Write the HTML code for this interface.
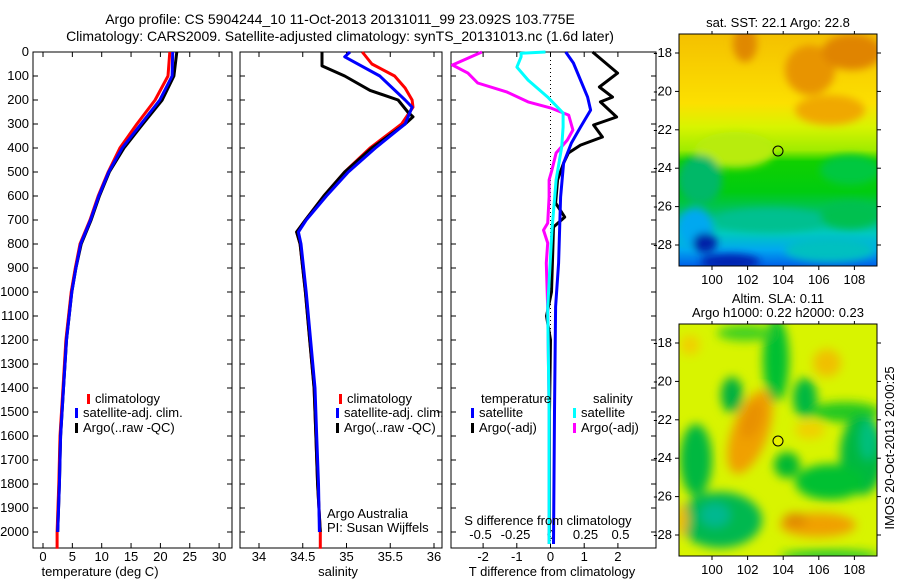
<!DOCTYPE html>
<html><head><meta charset="utf-8">
<style>
body{margin:0;background:#fff;}
svg{display:block;font-family:"Liberation Sans",sans-serif;}
text{font-size:13px;fill:#000;}
</style></head>
<body>
<svg id="fig" width="900" height="580" viewBox="0 0 900 580">
<defs>
<filter id="blur1" x="-50%" y="-50%" width="200%" height="200%"><feGaussianBlur stdDeviation="4"/></filter>
<filter id="blur2" x="-50%" y="-50%" width="200%" height="200%"><feGaussianBlur stdDeviation="5"/></filter>
<clipPath id="clipM1"><rect x="679" y="34" width="198" height="232"/></clipPath>
<clipPath id="clipM2"><rect x="679" y="324" width="198" height="232"/></clipPath>
<linearGradient id="sstGrad" x1="0" y1="0" x2="0" y2="1">
<stop offset="0" stop-color="#f4c000"/><stop offset="0.3" stop-color="#fce000"/><stop offset="0.4" stop-color="#d8f400"/>
<stop offset="0.5" stop-color="#a0ec00"/><stop offset="0.55" stop-color="#10d000"/><stop offset="0.68" stop-color="#00cc10"/><stop offset="0.78" stop-color="#00c070"/>
<stop offset="0.86" stop-color="#00c8c0"/><stop offset="0.93" stop-color="#00a8f0"/><stop offset="1" stop-color="#0060e8"/></linearGradient>
</defs>

<text x="340" y="24" text-anchor="middle" style="font-size:14px">Argo profile: CS 5904244_10 11-Oct-2013 20131011_99 23.092S 103.775E</text>
<text x="340" y="41" text-anchor="middle" style="font-size:14px">Climatology: CARS2009. Satellite-adjusted climatology: synTS_20131013.nc (1.6d later)</text>

<g id="axes"></g>
<g id="marks"></g>

<g>
<rect x="87" y="394" width="3" height="10" fill="#f00"/><text x="95" y="403">climatology</text>
<rect x="75" y="408" width="3" height="10" fill="#00f"/><text x="83" y="417">satellite-adj. clim.</text>
<rect x="75" y="423" width="3" height="10" fill="#000"/><text x="83" y="432">Argo(..raw -QC)</text>
</g>
<g>
<rect x="339" y="394" width="3" height="10" fill="#f00"/><text x="347" y="403">climatology</text>
<rect x="336" y="408" width="3" height="10" fill="#00f"/><text x="344" y="417">satellite-adj. clim.</text>
<rect x="336" y="423" width="3" height="10" fill="#000"/><text x="344" y="432">Argo(..raw -QC)</text>
</g>
<text x="327" y="518">Argo Australia</text>
<text x="327" y="532">PI: Susan Wijffels</text>
<g>
<text x="481" y="403">temperature</text><text x="593" y="403">salinity</text>
<rect x="471" y="408" width="3" height="10" fill="#00f"/><text x="479" y="417">satellite</text>
<rect x="573" y="408" width="3" height="10" fill="#0ff"/><text x="581" y="417">satellite</text>
<rect x="471" y="423" width="3" height="10" fill="#000"/><text x="479" y="432">Argo(-adj)</text>
<rect x="573" y="423" width="3" height="10" fill="#f0f"/><text x="581" y="432">Argo(-adj)</text>
</g>
<text x="548" y="525" text-anchor="middle">S difference from climatology</text>

<text x="100" y="576" text-anchor="middle">temperature (deg C)</text>
<text x="338" y="576" text-anchor="middle">salinity</text>
<text x="552" y="576" text-anchor="middle">T difference from climatology</text>

<g>
<text x="778" y="27" text-anchor="middle">sat. SST: 22.1  Argo: 22.8</text>
<g clip-path="url(#clipM1)">
<rect x="679" y="34" width="198" height="232" fill="url(#sstGrad)"/>
<g filter="url(#blur1)">
<ellipse cx="745" cy="44" rx="12" ry="18" fill="#e08800"/>
<ellipse cx="810" cy="70" rx="25" ry="25" fill="#e89400"/>
<ellipse cx="852" cy="52" rx="30" ry="18" fill="#e08400"/>
<ellipse cx="830" cy="110" rx="35" ry="15" fill="#f0a800"/>
<ellipse cx="735" cy="150" rx="40" ry="18" fill="#b8ec10"/>
<ellipse cx="850" cy="170" rx="30" ry="15" fill="#00c840"/>
<ellipse cx="700" cy="180" rx="22" ry="25" fill="#00b868"/>
<ellipse cx="770" cy="220" rx="55" ry="12" fill="#00c090"/>
<ellipse cx="850" cy="215" rx="30" ry="14" fill="#00c050"/>
<ellipse cx="695" cy="228" rx="18" ry="20" fill="#00a8f0"/>
<ellipse cx="705" cy="243" rx="12" ry="10" fill="#0020a8"/>
<ellipse cx="730" cy="262" rx="30" ry="8" fill="#0020b0"/>
<ellipse cx="830" cy="250" rx="45" ry="12" fill="#00c0c0"/>
</g></g>
<rect x="679" y="34" width="198" height="232" fill="none" stroke="#000"/>
<circle cx="778" cy="151" r="5" fill="none" stroke="#000"/>
</g>

<g>
<text x="778" y="303" text-anchor="middle">Altim. SLA: 0.11</text>
<text x="778" y="317" text-anchor="middle">Argo h1000: 0.22 h2000: 0.23</text>
<g clip-path="url(#clipM2)">
<rect x="679" y="324" width="198" height="232" fill="#d8f400"/>
<g filter="url(#blur2)">
<ellipse cx="776" cy="360" rx="13" ry="42" fill="#00c030"/>
<ellipse cx="745" cy="333" rx="28" ry="8" fill="#40d020"/>
<ellipse cx="732" cy="395" rx="11" ry="18" fill="#00b040"/>
<ellipse cx="805" cy="398" rx="12" ry="20" fill="#00b840"/>
<ellipse cx="845" cy="412" rx="35" ry="10" fill="#20c820"/>
<ellipse cx="862" cy="455" rx="22" ry="40" fill="#00b840"/>
<ellipse cx="868" cy="440" rx="8" ry="20" fill="#00c080"/>
<ellipse cx="696" cy="460" rx="16" ry="36" fill="#00b840"/>
<ellipse cx="787" cy="465" rx="13" ry="13" fill="#00b830"/>
<ellipse cx="720" cy="520" rx="42" ry="28" fill="#00b850"/>
<ellipse cx="715" cy="515" rx="15" ry="12" fill="#00b890"/>
<ellipse cx="830" cy="482" rx="35" ry="18" fill="#00c030"/>
<ellipse cx="830" cy="556" rx="50" ry="6" fill="#20c830"/>
<ellipse cx="750" cy="432" rx="18" ry="44" fill="#f0a000" transform="rotate(20 750 432)"/>
<ellipse cx="752" cy="420" rx="9" ry="20" fill="#e89000" transform="rotate(20 752 420)"/>
<ellipse cx="818" cy="525" rx="38" ry="12" fill="#f0a000"/>
<ellipse cx="795" cy="520" rx="12" ry="7" fill="#e08800"/>
<ellipse cx="827" cy="363" rx="14" ry="14" fill="#f0c000"/>
<ellipse cx="810" cy="430" rx="15" ry="9" fill="#f0d000"/>
<ellipse cx="690" cy="345" rx="10" ry="10" fill="#f0d000"/>
<ellipse cx="682" cy="520" rx="6" ry="16" fill="#f0b800"/>
</g></g>
<rect x="679" y="324" width="198" height="232" fill="none" stroke="#000"/>
<circle cx="778" cy="441" r="5" fill="#e8f000" stroke="#000"/>
<text transform="translate(894 448) rotate(-90)" text-anchor="middle">IMOS 20-Oct-2013 20:00:25</text>
</g>
</svg>
<script>
const depthTicks = [0,100,200,300,400,500,600,700,800,900,1000,1100,1200,1300,1400,1500,1600,1700,1800,1900,2000];
const tempTicks = [0,5,10,15,20,25,30];
const salTicks = [34,34.5,35,35.5,36];
const salTickLabels = ["34","34.5","35","35.5","36"];
const tdiffTicks = [-2,-1,0,1,2];
const sdiffTicks = [-0.5,-0.25,0,0.25,0.5];
const sdiffTickLabels = ["-0.5","-0.25","0","0.25","0.5"];

const tempDepths = [0,100,200,300,400,500,600,700,800,900,1000,1200,1400,1600,1800,2000,2070];
const tempClim = [21.6,21.3,19.1,16.0,13.1,11.1,9.4,8.0,6.3,5.5,4.8,3.9,3.4,2.9,2.7,2.4,2.4];
const tempSat = [22.1,22.0,19.9,16.7,13.5,11.2,9.5,8.1,6.4,5.6,4.9,4.0,3.5,3.0,2.8,2.5];
const tempArgo = [22.8,22.3,20.3,17.0,13.8,11.3,9.6,8.2,6.5,5.6,4.9,4.0,3.5,3.0,2.8,2.5];

const salClimDepths = [0,50,100,150,200,230,300,400,500,600,700,750,800,1000,1200,1400,1600,1800,2000,2070];
const salClim = [35.18,35.29,35.55,35.67,35.75,35.76,35.63,35.27,34.98,34.74,34.53,34.43,34.47,34.53,34.58,34.63,34.65,34.67,34.70,34.70];
const salSatDepths = [0,20,100,200,230,300,400,500,600,700,750,800,1000,1200,1400,1600,1800,2000];
const salSat = [35.04,34.98,35.38,35.67,35.75,35.67,35.33,35.02,34.77,34.54,34.45,34.48,34.54,34.59,34.64,34.66,34.68,34.69];
const salArgoDepths = [0,58,100,160,200,250,270,300,400,500,600,700,750,800,1000,1200,1400,1600,1800,2000];
const salArgo = [34.72,34.72,34.98,35.27,35.59,35.70,35.76,35.67,35.29,34.98,34.74,34.53,34.43,34.47,34.53,34.58,34.63,34.65,34.67,34.70];

const tdArgoDepths = [0,88,146,188,208,271,304,354,388,421,463,533,629,688,729,867,1000,1100,1200,1500,2000];
const tdArgo = [1.25,1.99,1.45,1.84,1.48,1.96,1.28,1.54,0.89,0.53,0.39,0.21,0.15,0.42,0.09,0.06,0.03,-0.12,0,-0.03,-0.03];
const tdSatDepths = [0,46,188,242,313,379,463,604,879,1061,1500,2050];
const tdSat = [0.45,0.68,1.10,1.19,0.89,0.62,0.39,0.30,0.24,0.15,0.12,0.09];
const sdSatDepths = [0,5,20,63,117,188,254,313,396,533,746,1067,1500,2050];
const sdSat = [-0.036,-0.21,-0.21,-0.24,-0.16,-0.02,0.09,0.09,0.08,0.04,0.01,-0.02,-0.01,-0.01];
const sdArgoDepths = [0,54,88,129,167,208,233,263,325,367,421,492,533,604,713,742,796,879,1067,1500,2050];
const sdArgo = [-0.49,-0.70,-0.59,-0.52,-0.31,-0.16,0,0.13,0.16,0.12,0.04,0.01,-0.01,-0.01,-0.02,-0.05,-0.02,-0.03,-0.02,-0.01,-0.01];

const Y0 = 52, PXM = 0.24, YBOT = 548;
const yD = d => Y0 + d * PXM;
const xT = t => 43 + t * 5.87;
const xS = s => 259 + (s - 34) * 87.5;
const xTD = v => 550.5 + v * 33.7;
const xSD = v => 550.5 + v * 140;

const NS = "http://www.w3.org/2000/svg";
const axes = document.getElementById('axes');
const marks = document.getElementById('marks');
function mk(tag, attrs, parent){ const e = document.createElementNS(NS, tag); for (const k in attrs) e.setAttribute(k, attrs[k]); parent.appendChild(e); return e; }

const panels = [
  {name:'temperature-panel', x0:33, x1:232},
  {name:'salinity-panel', x0:240, x1:442},
  {name:'difference-panel', x0:451, x1:656}
];
panels.forEach(p => {
  const r = mk('rect', {x:p.x0, y:Y0, width:p.x1-p.x0, height:YBOT-Y0, fill:'none', stroke:'#000'}, axes);
  
  
  depthTicks.forEach(d => {
    mk('line', {x1:p.x0, x2:p.x0+5, y1:yD(d), y2:yD(d), stroke:'#000'}, axes);
    mk('line', {x1:p.x1, x2:p.x1-5, y1:yD(d), y2:yD(d), stroke:'#000'}, axes);
  });
});
depthTicks.forEach(d => {
  const t = mk('text', {x:29, y:yD(d)+4, 'text-anchor':'end'}, axes);
  t.textContent = d;
  
  
});
function xticks(vals, labels, fx, yb, labelY, topTicks){
  vals.forEach((v,i) => {
    const x = fx(v);
    mk('line', {x1:x, x2:x, y1:yb, y2:yb-5, stroke:'#000'}, axes);
    if (topTicks) mk('line', {x1:x, x2:x, y1:Y0, y2:Y0+5, stroke:'#000'}, axes);
    const t = mk('text', {x:x, y:labelY, 'text-anchor':'middle'}, axes);
    t.textContent = labels[i];
    
    
  });
}
xticks(tempTicks, tempTicks.map(String), xT, YBOT, 561, true);
xticks(salTicks, salTickLabels, xS, YBOT, 561, true);
xticks(tdiffTicks, tdiffTicks.map(String), xTD, YBOT, 561, true);
sdiffTicks.forEach((v,i) => {
  const t = mk('text', {x:xSD(v), y:539, 'text-anchor':'middle'}, axes);
  t.textContent = sdiffTickLabels[i];
  
  
});
function mapAxes(top, name){
  const lats = [-18,-20,-22,-24,-26,-28], lons = [100,102,104,106,108];
  const yL = l => top + 19 + (-18 - l) * 19.2;
  const xL = l => 712 + (l - 100) * 17.8;
  lats.forEach(l => {
    mk('line', {x1:679, x2:675, y1:yL(l), y2:yL(l), stroke:'#000'}, axes);
    mk('line', {x1:877, x2:881, y1:yL(l), y2:yL(l), stroke:'#000'}, axes);
    const t = mk('text', {x:672, y:yL(l)+4, 'text-anchor':'end'}, axes);
    t.textContent = l;
    
    
  });
  lons.forEach(l => {
    mk('line', {x1:xL(l), x2:xL(l), y1:top+232, y2:top+236, stroke:'#000'}, axes);
    mk('line', {x1:xL(l), x2:xL(l), y1:top, y2:top-3, stroke:'#000'}, axes);
    const t = mk('text', {x:xL(l), y:top+250, 'text-anchor':'middle'}, axes);
    t.textContent = l;
    
    
  });
}
mapAxes(34, 'sst-map');
mapAxes(324, 'sla-map');

const zl = mk('line', {x1:xTD(0), x2:xTD(0), y1:Y0, y2:YBOT, stroke:'#000', 'stroke-dasharray':'1,3'}, axes);



function line(depths, vals, fx, color, w, name){
  const pts = vals.map((v,i) => fx(v).toFixed(1) + ',' + yD(depths[i]).toFixed(1)).join(' ');
  const p = mk('polyline', {points:pts, fill:'none', stroke:color, 'stroke-width':w, 'stroke-linejoin':'round'}, marks);
  
  
}
line(tempDepths, tempClim, xT, '#f00', 3, 'temp-climatology-line');
line(tempDepths, tempArgo, xT, '#000', 3, 'temp-argo-line');
line(tempDepths, tempSat, xT, '#00f', 3, 'temp-satellite-line');
line(salClimDepths, salClim, xS, '#f00', 3, 'sal-climatology-line');
line(salArgoDepths, salArgo, xS, '#000', 3, 'sal-argo-line');
line(salSatDepths, salSat, xS, '#00f', 3, 'sal-satellite-line');
line(tdArgoDepths, tdArgo, xTD, '#000', 3, 'tdiff-argo-line');
line(tdSatDepths, tdSat, xTD, '#00f', 3, 'tdiff-satellite-line');
line(sdArgoDepths, sdArgo, xSD, '#f0f', 3, 'sdiff-argo-line');
line(sdSatDepths, sdSat, xSD, '#0ff', 3, 'sdiff-satellite-line');
</script>
</body></html>
